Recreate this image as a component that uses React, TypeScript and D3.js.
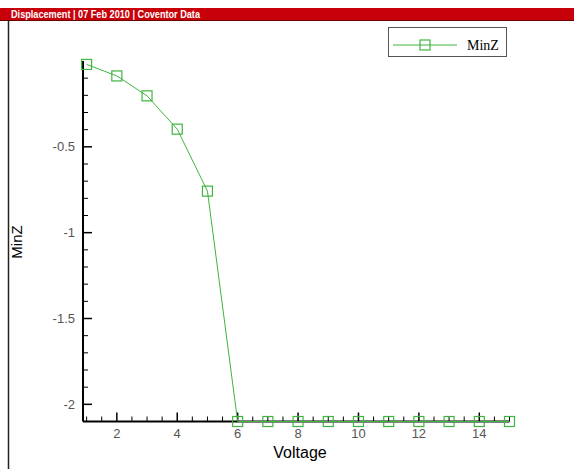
import React from "react";
import * as d3 from "d3";

const voltage = [1, 2, 3, 4, 5, 6, 7, 8, 9, 10, 11, 12, 13, 14, 15];
const minZ = [-0.02, -0.087, -0.203, -0.397, -0.758, -2.1, -2.1, -2.1, -2.1, -2.1, -2.1, -2.1, -2.1, -2.1, -2.1];
const xMajorTicks = [2, 4, 6, 8, 10, 12, 14];
const yMajorTicks = [-0.5, -1, -1.5, -2];
const titleText = "Displacement | 07 Feb 2010 | Coventor Data";
const seriesName = "MinZ";

export default function App() {
  const W = 574, H = 469;
  const x = d3.scaleLinear().domain([0.88, 15]).range([83, 509.5]);
  const y = d3.scaleLinear().domain([-2.1, 0]).range([421.5, 61]);
  const green = "#3fb53f";
  const line = d3.line<number>().x((_, i) => x(voltage[i])).y((d) => y(d));

  const xMinor = d3.range(1, 15.01, 0.5).filter((v) => !xMajorTicks.includes(v));
  const yMinor = d3.range(-20, 0).map((k) => k / 10).filter((v) => !yMajorTicks.some((m) => Math.abs(m - v) < 1e-9));
  const sq = 10;
  const axisFont = "Arial, 'Liberation Sans', sans-serif";

  return (
    <svg width={W} height={H} style={{ position: "absolute", left: 0, top: 0, background: "#fff" }}>
      <rect x={0} y={8} width={W} height={13} fill="#c8000a" />
      <line x1={0} x2={W} y1={20.5} y2={20.5} stroke="#6a0000" strokeWidth={1} />
      <text x={11} y={18} fill="#fff" fontFamily="'Liberation Sans Narrow', Arial, sans-serif" fontWeight="bold" fontSize={10.5} textLength={189} lengthAdjust="spacingAndGlyphs">
        {titleText}
      </text>
      <line x1={8.5} x2={8.5} y1={21} y2={H} stroke="#222" strokeWidth={1.5} />

      {/* axes */}
      <line x1={x.range()[0]} x2={x.range()[1]} y1={y(-2.1)} y2={y(-2.1)} stroke="#000" strokeWidth={2} />
      <line x1={x.range()[0]} x2={x.range()[0]} y1={y(0)} y2={y(-2.1)} stroke="#000" strokeWidth={2} />

      {xMajorTicks.map((t) => (
        <g key={"xm" + t}>
          <line x1={x(t)} x2={x(t)} y1={y(-2.1)} y2={y(-2.1) - 9} stroke="#000" strokeWidth={1.5} />
          <text x={x(t)} y={438} textAnchor="middle" fontFamily={axisFont} fontSize={13} fill="#555">{t}</text>
        </g>
      ))}
      {xMinor.map((t) => (
        <line key={"xn" + t} x1={x(t)} x2={x(t)} y1={y(-2.1)} y2={y(-2.1) - 5} stroke="#000" strokeWidth={1} />
      ))}
      {yMajorTicks.map((t) => (
        <g key={"ym" + t}>
          <line x1={x.range()[0]} x2={x.range()[0] + 9} y1={y(t)} y2={y(t)} stroke="#000" strokeWidth={1.5} />
          <text x={75} y={y(t) + 4.5} textAnchor="end" fontFamily={axisFont} fontSize={13} fill="#555">{t}</text>
        </g>
      ))}
      {yMinor.map((t) => (
        <line key={"yn" + t} x1={x.range()[0]} x2={x.range()[0] + 5} y1={y(t)} y2={y(t)} stroke="#000" strokeWidth={1} />
      ))}

      <text x={300} y={458} textAnchor="middle" fontFamily={axisFont} fontSize={16} fill="#000">Voltage</text>
      <text transform={`translate(22,242) rotate(-90)`} textAnchor="middle" fontFamily={axisFont} fontSize={15} fill="#000">MinZ</text>

      {/* series */}
      <path d={line(minZ) || ""} fill="none" stroke={green} strokeWidth={1} />
      {minZ.map((v, i) => (
        <rect key={"p" + i} x={x(voltage[i]) - sq / 2} y={y(v) - sq / 2} width={sq} height={sq} fill="none" stroke={green} strokeWidth={1.2} />
      ))}

      {/* legend */}
      <rect x={388.5} y={27.5} width={118} height={29} fill="#fff" stroke="#555" strokeWidth={1} />
      <line x1={393} x2={457} y1={45} y2={45} stroke={green} strokeWidth={1} />
      <rect x={425 - sq / 2} y={45 - sq / 2} width={sq} height={sq} fill="none" stroke={green} strokeWidth={1.2} />
      <text x={467} y={49.5} fontFamily="'Liberation Serif', 'Times New Roman', serif" fontSize={14} fill="#000">{seriesName}</text>
    </svg>
  );
}
